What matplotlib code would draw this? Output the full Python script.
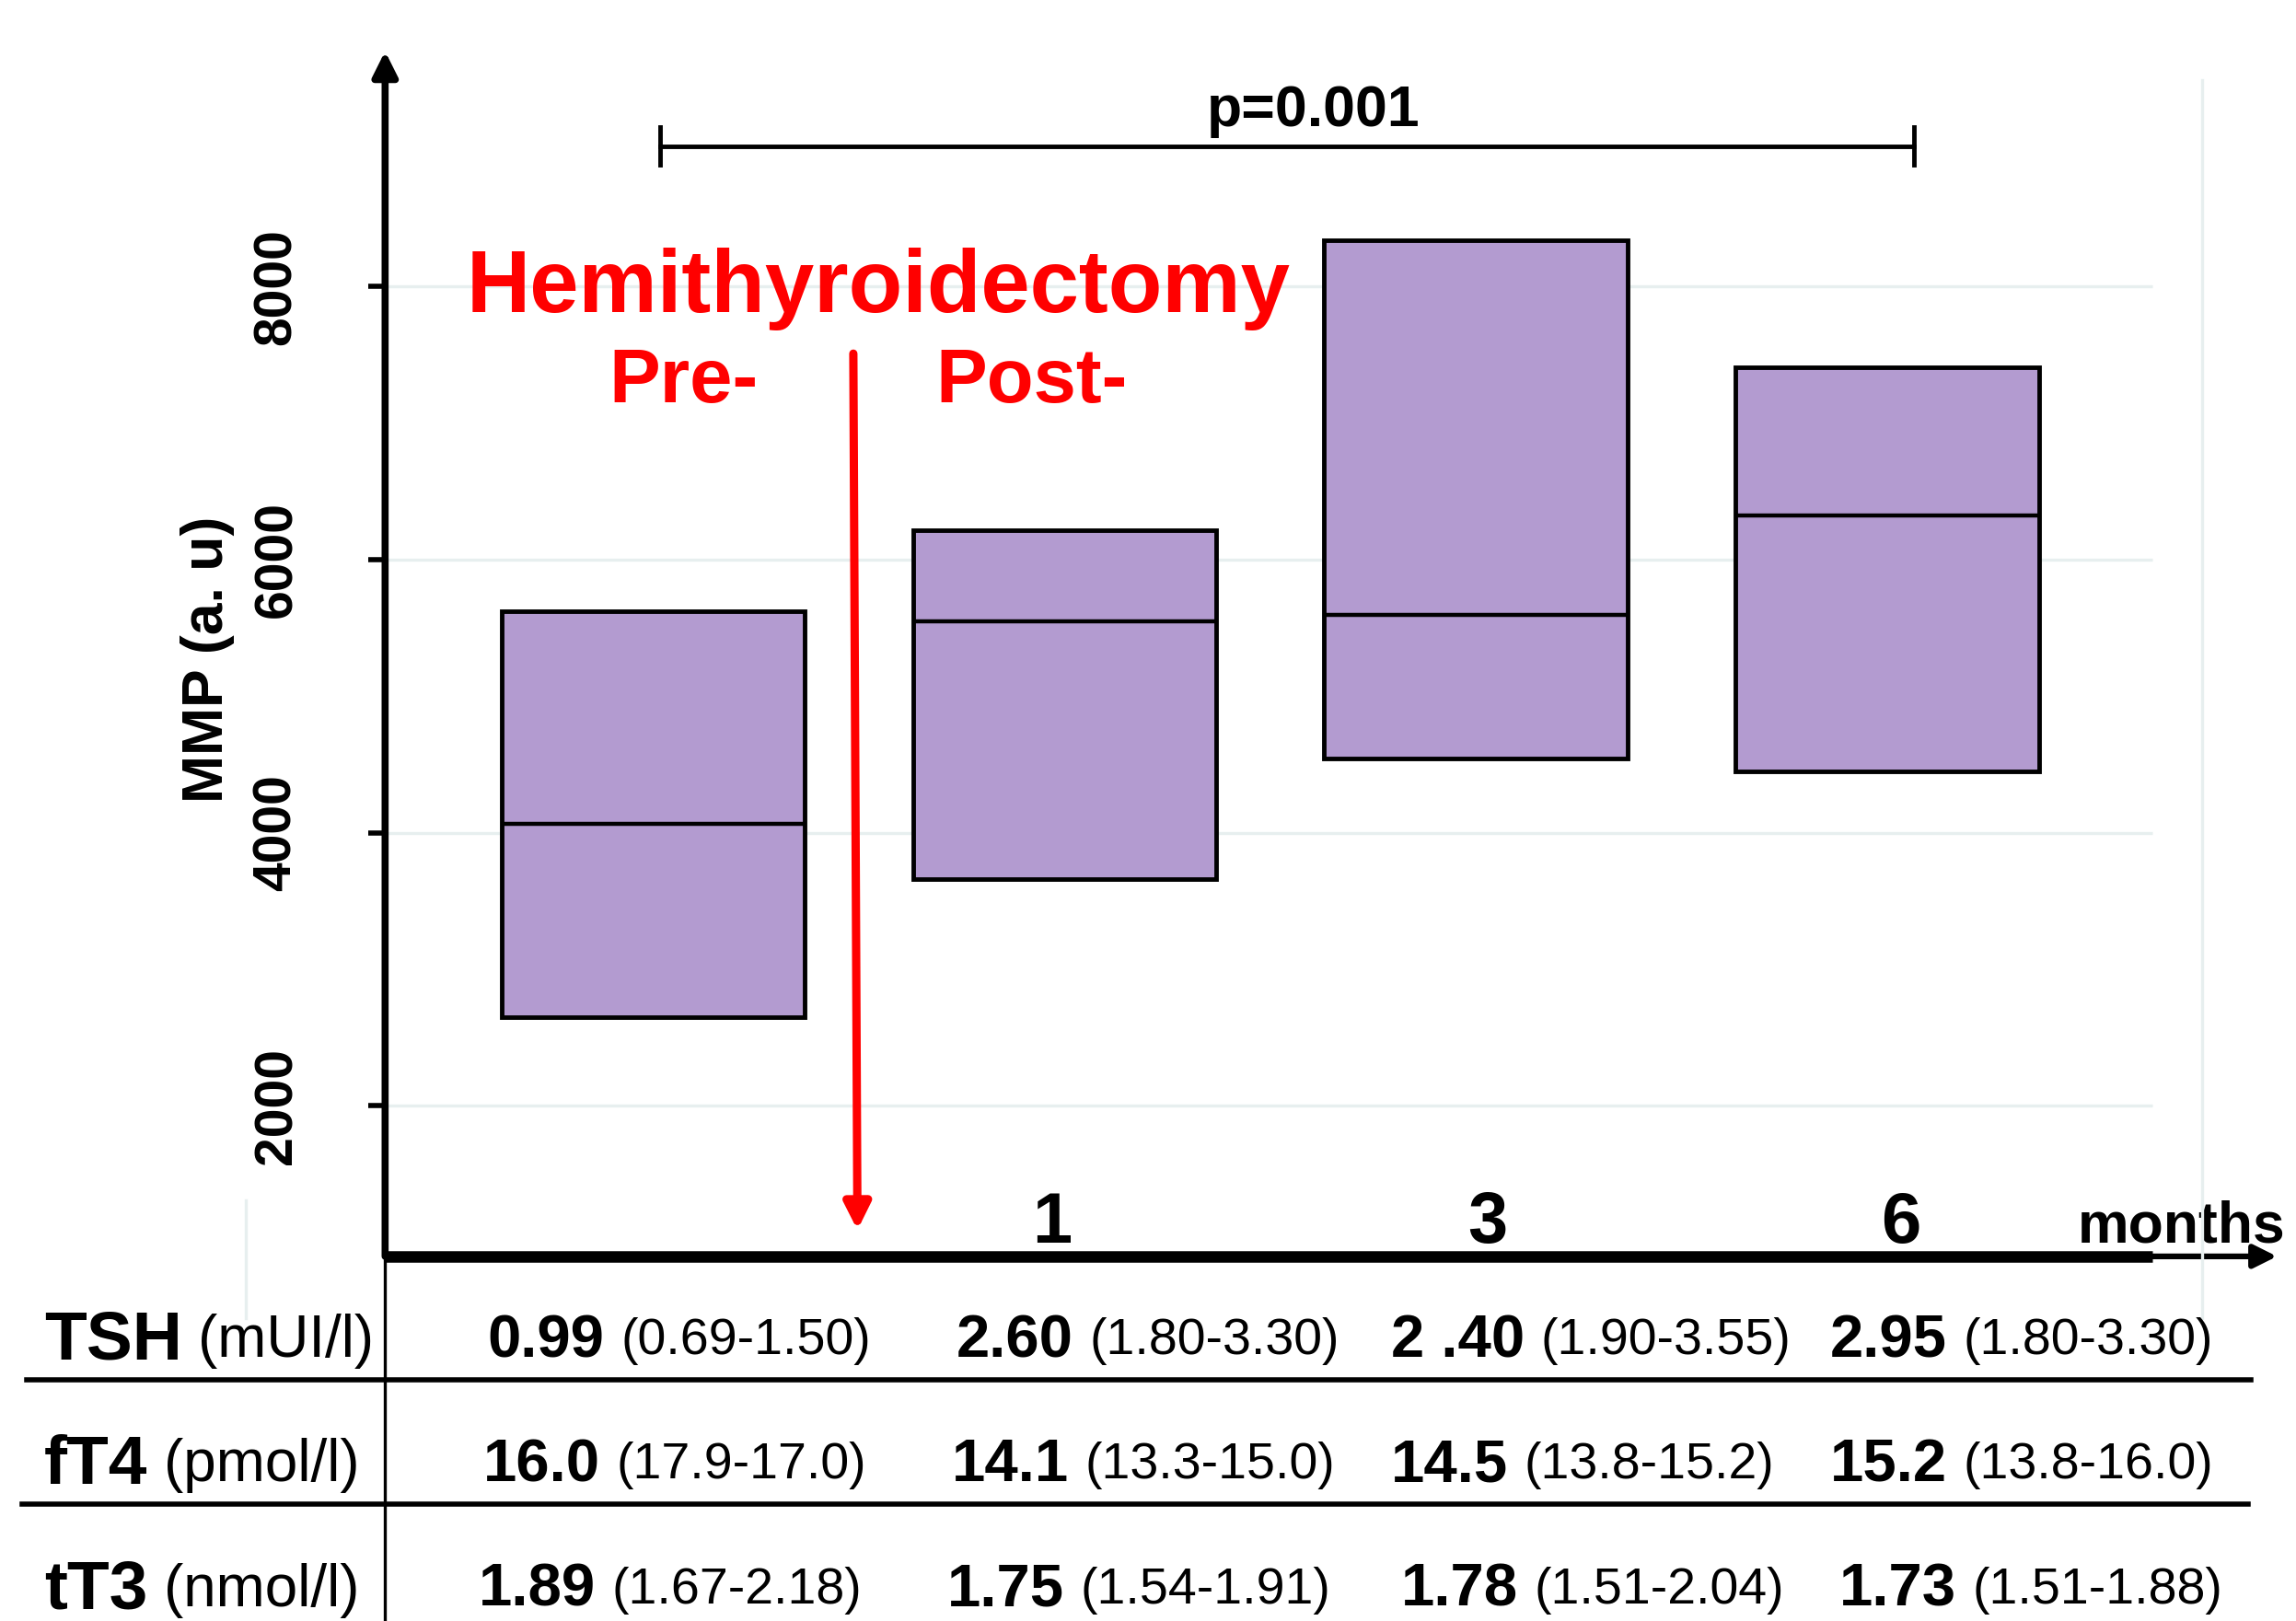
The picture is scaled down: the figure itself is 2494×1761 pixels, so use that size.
import matplotlib
matplotlib.use('Agg')
import matplotlib.pyplot as plt
from matplotlib.lines import Line2D

# ---------------- data ----------------
groups = ['Pre', '1 month', '3 months', '6 months']
box_low = [2650, 3660, 4545, 4450]
box_median = [4065, 5550, 5595, 6320]
box_high = [5625, 6215, 8340, 7410]
month_labels = ['', '1', '3', '6']
y_ticks = [2000, 4000, 6000, 8000]
p_text = 'p=0.001'

hormones = ['TSH', 'fT4', 'tT3']
units = ['(mUI/l)', '(pmol/l)', '(nmol/l)']
tbl_median = [['0.99', '2.60', '2 .40', '2.95'],
              ['16.0', '14.1', '14.5', '15.2'],
              ['1.89', '1.75', '1.78', '1.73']]
tbl_range = [['(0.69-1.50)', '(1.80-3.30)', '(1.90-3.55)', '(1.80-3.30)'],
             ['(17.9-17.0)', '(13.3-15.0)', '(13.8-15.2)', '(13.8-16.0)'],
             ['(1.67-2.18)', '(1.54-1.91)', '(1.51-2.04)', '(1.51-1.88)']]

# ---------------- layout helpers ----------------
W0, H0 = 1568.0, 1107.0
def fx(x):
    return x / W0
def fy(y):
    return 1 - y / H0

plt.rcParams['font.family'] = ['Liberation Sans', 'DejaVu Sans']
NARROW = ['Liberation Sans Narrow', 'Liberation Sans', 'DejaVu Sans']

fig = plt.figure(figsize=(24.94, 17.61), dpi=100)
fig.patch.set_facecolor('white')

ax = fig.add_axes([fx(263), fy(858), fx(1555) - fx(263), fy(35) - fy(858)])
ax.set_xlim(-0.651, 3.947)
ax.set_ylim(898, 9722)
for s in ax.spines.values():
    s.set_visible(False)
ax.set_facecolor('none')

grid_col = '#E7EFEF'
ax.hlines(y_ticks, -0.651, 3.644, color=grid_col, lw=2.4, zorder=0)

xpos = list(range(len(groups)))
bw = 0.737
heights = [h - l for h, l in zip(box_high, box_low)]
ax.bar(xpos, heights, bottom=box_low, width=bw, color='#B39BD0',
       edgecolor='black', linewidth=3.5, zorder=2)
ax.hlines(box_median, [x - bw / 2 for x in xpos], [x + bw / 2 for x in xpos],
          color='black', lw=3.2, zorder=3)

# axes arrows
ax.annotate('', xy=(0, 1.0), xytext=(0, 0), xycoords='axes fraction',
            arrowprops=dict(arrowstyle='-|>', lw=5.5, color='black',
                            mutation_scale=40, shrinkA=0, shrinkB=0))
ax.plot([0, 0.934], [0, 0], transform=ax.transAxes, color='black', lw=9,
        solid_capstyle='butt', clip_on=False, zorder=5)
ax.annotate('', xy=(1.0, 0), xytext=(0.9, 0), xycoords='axes fraction',
            arrowprops=dict(arrowstyle='-|>', lw=4.5, color='black',
                            mutation_scale=38, shrinkA=0, shrinkB=0))

# ticks
ax.set_xticks([])
ax.set_yticks(y_ticks)
ax.set_yticklabels([str(t) for t in y_ticks])
ax.tick_params(axis='y', length=13, width=4, direction='out', pad=52,
               labelsize=41, labelrotation=90)
for lab in ax.get_yticklabels():
    lab.set_fontweight('bold')
    lab.set_va('center')

# month labels
month_dx = [0, -0.031, 0.029, 0.033]
for x, m, d in zip(xpos, month_labels, month_dx):
    if m:
        ax.text(x + d, 1135, m, ha='center', va='center', fontsize=56,
                fontweight='bold')
ax.text(3.715, 1110, 'months', ha='center', va='center', fontsize=45,
        fontweight='bold', clip_on=False)

# p bracket
ax.plot([0.018, 3.064], [9027, 9027], color='black', lw=3.5, clip_on=False)
ax.plot([0.018, 0.018], [8890, 9165], color='black', lw=3.5, clip_on=False)
ax.plot([3.064, 3.064], [8890, 9165], color='black', lw=3.5, clip_on=False)
ax.text(1.605, 9285, p_text, ha='center', va='center', fontsize=45,
        fontweight='bold', clip_on=False)

# red annotation
ax.text(0.548, 7980, 'Hemithyroidectomy', color='red', ha='center',
        va='center', fontsize=69, fontweight='bold')
ax.text(0.075, 7300, 'Pre-', color='red', ha='center', va='center',
        fontsize=60, fontweight='bold')
ax.text(0.92, 7300, 'Post-', color='red', ha='center', va='center',
        fontsize=60, fontweight='bold')
ax.annotate('', xy=(0.497, 1091), xytext=(0.487, 7508),
            arrowprops=dict(arrowstyle='-|>', lw=6.5, color='red',
                            mutation_scale=42, shrinkA=0, shrinkB=0))

# y label
fig.text(fx(142), fy(450), 'MMP (a. u)', rotation=90, fontsize=45,
         fontweight='bold', ha='center', va='center')

# faint vertical lines
fig.add_artist(Line2D([fx(1504), fx(1504)], [fy(55), fy(900)], color=grid_col, lw=2.4))
fig.add_artist(Line2D([fx(168), fx(168)], [fy(820), fy(900)], color=grid_col, lw=2.4))

# ---------------- table ----------------
fig.add_artist(Line2D([fx(263), fx(263)], [fy(860), fy(1107)], color='black', lw=2.4))
fig.add_artist(Line2D([fx(18), fx(1537)], [fy(942), fy(942)], color='black', lw=4))
fig.add_artist(Line2D([fx(15), fx(1535)], [fy(1027), fy(1027)], color='black', lw=4))

renderer = fig.canvas.get_renderer()
row_y = [916, 1001, 1086]
col_x = [[333, 653, 950, 1250],
         [330, 650, 950, 1250],
         [327, 647, 957, 1256]]
gap = 11 / W0
for r, (h, u) in enumerate(zip(hormones, units)):
    t = fig.text(fx(30), fy(row_y[r]), h, fontsize=54, fontweight='bold',
                 family=NARROW, ha='left', va='center')
    bb = t.get_window_extent(renderer=renderer)
    fig.text(bb.x1 / fig.bbox.width + gap, fy(row_y[r]), u, fontsize=46,
             family=NARROW, ha='left', va='center')
    for c in range(4):
        t = fig.text(fx(col_x[r][c]), fy(row_y[r]), tbl_median[r][c], fontsize=47,
                     fontweight='bold', family=NARROW, ha='left', va='center')
        bb = t.get_window_extent(renderer=renderer)
        fig.text(bb.x1 / fig.bbox.width + gap, fy(row_y[r]), tbl_range[r][c],
                 fontsize=40, family=NARROW, ha='left', va='center')

fig.savefig('out.png', dpi=100, facecolor='white')
